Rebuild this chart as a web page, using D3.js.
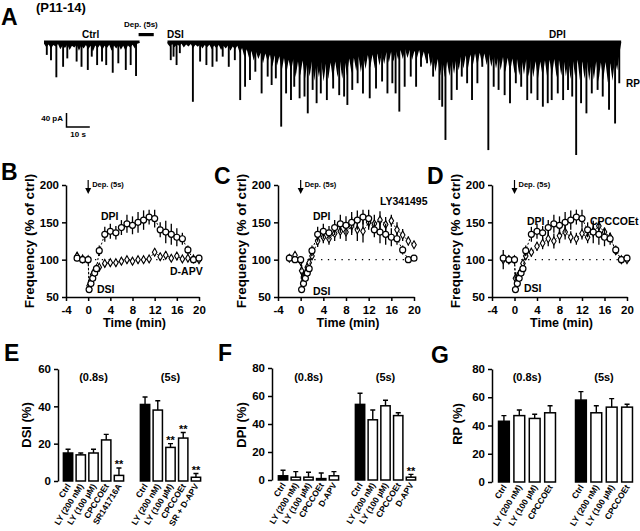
<!DOCTYPE html>
<html>
<head>
<meta charset="utf-8">
<script src="https://cdn.jsdelivr.net/npm/d3@7"></script>
<style>
body { margin: 0; background: #fff; }
svg { font-family: "Liberation Sans", Arial, sans-serif; font-weight: bold; }
</style>
</head>
<body>
<div id="fig"></div>
<script>
// ---------- panel A: current trace, [time (s), amplitude (pA)] ----------
var segStart = [0, 53];
var segLength = [41, 194.7];
var ctrlSpikes = [[1.2,36],[3.0,51],[5.3,100],[8.2,70],[10.0,46],[14.0,55],[16.1,70],[18.8,79],
  [20.5,41],[22.8,65],[24.9,55],[26.7,65],[29.5,87],[31.9,60],[35.1,79],[37.2,65],[39.5,96]];
var postSpikes = [[1.4,51],[2.6,41],[3.9,65],[5.3,31],[10.9,170],[14.0,55],[16.7,65],[19.3,70],
  [21.1,55],[23.7,41],[26.3,70],[28.9,51],[31.2,165],[33.3,127],[35.4,108],[37.7,84],[40.4,146],
  [43.0,98],[44.7,122],[46.5,103],[48.8,241],[50.9,146],[53.0,165],[54.4,127],[56.7,160],[58.8,155],
  [60.2,203],[62.3,136],[64.0,174],[65.8,146],[68.4,165],[71.1,132],[73.7,151],[75.8,155],[77.2,179],
  [79.3,136],[81.6,117],[83.9,146],[86.8,160],[89.5,132],[92.1,112],[94.4,146],[96.5,117],[97.9,146],
  [99.5,198],[101.8,127],[104.4,98],[106.7,127],[108.8,70],[111.4,60],[114.0,98],[116.7,165],
  [117.9,184],[119.3,279],[121.9,165],[124.2,136],[126.3,98],[128.6,117],[130.7,165],[133.0,117],
  [135.1,70],[137.7,308],[140.0,127],[142.1,136],[144.7,151],[147.0,174],[149.5,117],[151.8,127],
  [154.4,165],[156.1,146],[158.8,165],[161.1,184],[163.2,174],[164.9,165],[167.5,146],[169.8,165],
  [171.9,136],[173.7,155],[175.4,322],[177.5,174],[179.8,203],[182.1,146],[184.6,136],[186.8,155],
  [189.5,193],[192.1,232],[193.9,117]];
// depth (pA) of the dense small-event band, one value per second of the trace
var ctrlBand = [4,14,6,18,8,12,5,20,9,16,6,22,10,15,7,24,9,18,8,20,10,26,9,17,8,22,10,16,7,24,
  9,18,8,21,10,25,9,15,7,18,4,2];
var postBand = [4,12,5,14,6,10,4,15,6,12,5,16,7,13,6,18,8,14,7,20,9,17,8,22,10,18,9,24,12,20,
  10,30,16,42,20,45,25,52,28,48,30,60,32,55,35,70,38,66,40,82,45,90,50,85,48,100,55,95,52,105,
  58,98,55,110,60,100,56,112,62,105,58,108,55,100,52,104,50,95,46,88,44,82,40,85,38,76,36,72,35,75,
  32,66,30,62,28,58,26,55,24,50,22,48,20,45,22,50,24,46,22,52,26,55,30,70,40,85,48,95,52,100,
  55,96,50,90,45,80,40,75,38,72,35,68,32,66,30,62,32,65,34,70,36,75,40,80,42,85,44,88,46,90,
  48,95,50,92,48,98,52,100,54,104,55,98,52,102,50,96,48,100,50,95,46,98,48,105,52,100,50,108,
  55,104,52,110,56,106,54,112,58,108,56,115,60,110,50,80,30,3];

// ---------- panels B-D: time course, % of ctrl ----------
var tcTime = [-2,-1,0,0.17,0.5,0.83,1.17,1.5,2,3,4,5,6,7,8,9,10,11,12,13,14,15,16,17,18,19,20];
var ctrlFreq = [102,100,100,60,68,75,82,88,112,134,138,136,143,148,146,150,153,157,155,140,137,134,130,128,113,100,102];
var ctrlErr  = [4,3,2,4,5,5,5,5,7,10,10,9,10,12,12,14,13,10,12,10,15,14,12,8,6,3,3];
var apvFreq  = [105,101,100,65,72,80,85,88,90,95,96,96,98,100,98,100,100,101,110,104,106,102,105,101,102,101,100];
var apvErr   = [5,4,3,5,5,5,5,4,4,5,5,5,5,5,5,5,4,4,5,5,5,4,4,4,4,3,3];
var lyFreq   = [102,106,98,85,75,80,90,96,105,125,130,128,135,138,137,145,140,138,150,148,153,147,152,140,133,125,120];
var lyErr    = [4,4,5,8,10,8,6,5,5,8,8,8,10,10,12,12,15,15,10,12,12,10,8,10,8,6,4];
var cpcFreq  = [100,100,100,75,75,80,85,95,105,110,118,122,128,125,132,137,130,128,135,130,138,145,137,130,112,100,100];
var cpcErr   = [13,6,5,8,8,6,6,5,5,6,6,8,10,10,10,10,8,8,8,8,8,6,6,6,5,3,3];

// ---------- panels E-G: bar charts ----------
var eCats1 = ["Ctrl", "LY (200 nM)", "LY (100 \u00b5M)", "CPCCOEt", "SR141716A"];
var eCats2 = ["Ctrl", "LY (200 nM)", "LY (100 \u00b5M)", "CPCCOEt", "SR + D-APV"];
var eMean1 = [15, 14, 15, 22, 3];
var eErr1  = [2, 1, 2, 3, 4];
var eSig1  = ["", "", "", "", "**"];
var eMean2 = [41, 38, 18, 23, 2];
var eErr2  = [4, 5, 2, 3, 2];
var eSig2  = ["", "", "**", "**", "**"];

var fCats1 = ["Ctrl", "LY (200 nM)", "LY (100 \u00b5M)", "CPCCOEt", "D-APV"];
var fCats2 = ["Ctrl", "LY (200 nM)", "LY (100 \u00b5M)", "CPCCOEt", "D-APV"];
var fMean1 = [3, 2, 2, 1, 3];
var fErr1  = [4, 4, 3.5, 4, 3];
var fSig1  = ["", "", "", "", ""];
var fMean2 = [54, 43, 53, 46, 2];
var fErr2  = [8, 7, 4, 2, 2];
var fSig2  = ["", "", "", "", "**"];

var gCats1 = ["Ctrl", "LY (200 nM)", "LY (100 \u00b5M)", "CPCCOEt"];
var gCats2 = ["Ctrl", "LY (200 nM)", "LY (100 \u00b5M)", "CPCCOEt"];
var gMean1 = [43, 47, 45, 49];
var gErr1  = [4, 4, 3, 5];
var gMean2 = [58, 49, 53, 53];
var gErr2  = [6, 5, 6, 2];
var gSig   = ["", "", "", ""];

var svg = d3.select("#fig").append("svg")
  .attr("width", 640)
  .attr("height", 531);

function label(x, y, txt, size, anchor) {
  return svg.append("text")
    .attr("x", x).attr("y", y)
    .attr("font-size", size)
    .attr("text-anchor", anchor || "start")
    .text(txt);
}

// ================= panel A =================
var xA = d3.scaleLinear().domain([0, 248]).range([44, 44 + 248 * 2.33]);
var yA = d3.scaleLinear().domain([0, 40]).range([42.3, 56.3]);

label(1, 25, "A", 23);
label(36, 12, "(P11-14)", 13);
label(124, 27, "Dep. (5s)", 8);
label(82, 38, "Ctrl", 10);
label(167, 38, "DSI", 10);
label(549, 38, "DPI", 10);
label(626, 87, "RP", 10);

// depolarisation bar
svg.append("rect")
  .attr("x", xA(40.6)).attr("y", 33)
  .attr("width", xA(6.5) - xA(0)).attr("height", 3.2)
  .attr("fill", "#000");

var traceG = svg.append("g");
function drawSeg(start, len, spikes, band) {
  var area = d3.area()
    .x((d, i) => xA(start + Math.min(i, len)))
    .y0(yA(0))
    .y1(d => yA(d));
  traceG.append("path").datum(band).attr("d", area).attr("fill", "#000");
  traceG.append("line")
    .attr("x1", xA(start)).attr("x2", xA(start + len))
    .attr("y1", yA(0) - 0.5).attr("y2", yA(0) - 0.5)
    .attr("stroke", "#000").attr("stroke-width", 2.4);
  traceG.selectAll(null).data(spikes).enter().append("line")
    .attr("x1", d => xA(start + d[0])).attr("x2", d => xA(start + d[0]))
    .attr("y1", yA(0)).attr("y2", d => yA(d[1]))
    .attr("stroke", "#000").attr("stroke-width", 1.9);
}
drawSeg(segStart[0], segLength[0], ctrlSpikes, ctrlBand);
drawSeg(segStart[1], segLength[1], postSpikes, postBand);

// scale bar: 40 pA, 10 s
var sbX = 66.5, sbY = 127;
svg.append("path")
  .attr("d", "M" + sbX + "," + (sbY - (yA(40) - yA(0))) + "V" + sbY + "H" + (sbX + xA(10) - xA(0)))
  .attr("fill", "none").attr("stroke", "#000").attr("stroke-width", 1.5);
label(63, 121, "40 pA", 8, "end");
label(sbX + (xA(10) - xA(0)) / 2, 137, "10 s", 8, "middle");

// ================= panels B-D =================
function styleAxis(g) {
  g.select(".domain").attr("stroke-width", 1.5);
  g.selectAll(".tick line").attr("stroke-width", 1.5);
  g.selectAll(".tick text").attr("font-size", 11.5).attr("font-weight", "bold")
    .attr("font-family", "Liberation Sans, Arial, sans-serif");
}

function timePanel(o) {
  var x = d3.scaleLinear().domain([-4, 20]).range([o.x0, o.x1]);
  var y = d3.scaleLinear().domain([50, 200]).range([297, 185]);
  var g = svg.append("g");

  g.append("g").attr("transform", "translate(0,297)")
    .call(d3.axisBottom(x).tickValues([-4, 0, 4, 8, 12, 16, 20]).tickSize(4).tickSizeOuter(0).tickFormat(d => String(d)))
    .call(styleAxis)
    .selectAll(".tick text").attr("dy", "0.85em");
  g.append("g").attr("transform", "translate(" + o.x0 + ",0)")
    .call(d3.axisLeft(y).tickValues([50, 100, 150, 200]).tickSize(4).tickSizeOuter(0))
    .call(styleAxis);

  g.append("line")
    .attr("x1", x(0)).attr("x2", x(20)).attr("y1", y(100)).attr("y2", y(100))
    .attr("stroke", "#000").attr("stroke-width", 1.3).attr("stroke-dasharray", "1.3,5.5");

  function series(vals, errs, small) {
    var pts = tcTime.map((t, i) => ({ t: t, v: vals[i], e: errs[i] }));
    g.append("path").datum(pts)
      .attr("d", d3.line().x(d => x(d.t)).y(d => y(d.v)))
      .attr("fill", "none").attr("stroke", "#000").attr("stroke-width", 1)
      .attr("stroke-dasharray", "2,2");
    g.selectAll(null).data(pts).enter().append("line")
      .attr("x1", d => x(d.t)).attr("x2", d => x(d.t))
      .attr("y1", d => y(d.v - d.e)).attr("y2", d => y(d.v + d.e))
      .attr("stroke", "#000").attr("stroke-width", 1.3);
    if (small) {
      g.selectAll(null).data(pts).enter().append("path")
        .attr("transform", d => "translate(" + x(d.t) + "," + y(d.v) + ")")
        .attr("d", d3.symbol(d3.symbolDiamond, 18))
        .attr("fill", "#fff").attr("stroke", "#000").attr("stroke-width", 1.1);
    } else {
      g.selectAll(null).data(pts).enter().append("circle")
        .attr("cx", d => x(d.t)).attr("cy", d => y(d.v)).attr("r", 3)
        .attr("fill", "#fff").attr("stroke", "#000").attr("stroke-width", 1.2);
    }
  }
  series(o.vals, o.errs, true);
  series(ctrlFreq, ctrlErr, false);

  // depolarisation arrow
  g.append("line").attr("x1", x(0)).attr("x2", x(0)).attr("y1", 180).attr("y2", 190)
    .attr("stroke", "#000").attr("stroke-width", 1.2);
  g.append("path")
    .attr("d", "M" + (x(0) - 3) + ",188L" + (x(0) + 3) + ",188L" + x(0) + ",194Z")
    .attr("fill", "#000");
  label(x(0) + 4, 187, "Dep. (5s)", 7.5);

  label(o.letterX, o.letterY, o.letter, 23);
  svg.append("text")
    .attr("transform", "translate(" + o.yLabX + ",241) rotate(-90)")
    .attr("text-anchor", "middle").attr("font-size", 13.5)
    .text("Frequency (% of ctrl)");
  label((o.x0 + o.x1) / 2 + 2, 327, "Time (min)", 12.5, "middle");
  o.notes.forEach(n => label(n[0], n[1], n[2], 10.5));
}

timePanel({ x0: 66, x1: 199, vals: apvFreq, errs: apvErr, letter: "B", letterX: 1, letterY: 180,
  yLabX: 34, notes: [[101, 220, "DPI"], [170, 275, "D-APV"], [97, 293, "DSI"]] });
timePanel({ x0: 278, x1: 414, vals: lyFreq, errs: lyErr, letter: "C", letterX: 214, letterY: 184,
  yLabX: 246, notes: [[313, 220, "DPI"], [380, 205, "LY341495"], [313, 295, "DSI"]] });
timePanel({ x0: 492, x1: 627, vals: cpcFreq, errs: cpcErr, letter: "D", letterX: 427, letterY: 184,
  yLabX: 460, notes: [[527, 225, "DPI"], [590, 225, "CPCCOEt"], [524, 292, "DSI"]] });

// ================= panels E-G =================
function barPanel(o) {
  var y = d3.scaleLinear().domain([0, o.max]).range([o.y0, o.y1]);
  var g = svg.append("g");
  g.append("g").attr("transform", "translate(" + o.ax + ",0)")
    .call(d3.axisLeft(y).tickValues(d3.range(0, o.max + 1, 20)).tickSize(4).tickSizeOuter(0))
    .call(styleAxis);

  o.groups.forEach(function (gr) {
    var band = d3.scaleBand().domain(d3.range(gr.cats.length))
      .range(gr.range).paddingInner(gr.pad).paddingOuter(0.05);
    var rows = gr.cats.map((c, i) => ({ i: i, c: c, m: gr.mean[i], e: gr.err[i], s: gr.sig[i] }));
    // error bars
    g.selectAll(null).data(rows).enter().append("path")
      .attr("d", d => {
        var cx = band(d.i) + band.bandwidth() / 2, t = y(d.m + d.e);
        return "M" + cx + "," + y(d.m) + "V" + t + "M" + (cx - 2.5) + "," + t + "H" + (cx + 2.5);
      })
      .attr("stroke", "#000").attr("stroke-width", 1.4).attr("fill", "none");
    g.selectAll(null).data(rows).enter().append("rect")
      .attr("x", d => band(d.i) + 0.75)
      .attr("y", d => y(d.m))
      .attr("width", band.bandwidth() - 1.5)
      .attr("height", d => Math.max(0, y(0) - y(d.m)))
      .attr("fill", d => d.i === 0 ? "#000" : "#fff")
      .attr("stroke", "#000").attr("stroke-width", 1.5);
    g.selectAll(null).data(rows.filter(d => d.s)).enter().append("text")
      .attr("x", d => band(d.i) + band.bandwidth() / 2)
      .attr("y", d => y(d.m + d.e) + 0.5)
      .attr("text-anchor", "middle").attr("font-size", 11)
      .text(d => d.s);
    g.selectAll(null).data(rows).enter().append("text")
      .attr("transform", d => "translate(" + (band(d.i) + band.bandwidth() / 2 + 3) + "," + (y(0) + 5) + ") rotate(-58)")
      .attr("text-anchor", "end").attr("font-size", 8.5)
      .text(d => d.c);
    label((gr.range[0] + gr.range[1]) / 2, 381, gr.title, 11, "middle");
  });

  label(o.letterX, o.letterY, o.letter, 23);
  svg.append("text")
    .attr("transform", "translate(" + o.yLabX + "," + o.yLabY + ") rotate(-90)")
    .attr("text-anchor", "middle").attr("font-size", 13)
    .text(o.yLab);
}

barPanel({ ax: 58, max: 60, y0: 481, y1: 369, letter: "E", letterX: 4, letterY: 361,
  yLab: "DSI (%)", yLabX: 31, yLabY: 425,
  groups: [
    { cats: eCats1, mean: eMean1, err: eErr1, sig: eSig1, range: [62, 125], pad: 0.15, title: "(0.8s)" },
    { cats: eCats2, mean: eMean2, err: eErr2, sig: eSig2, range: [139, 202], pad: 0.15, title: "(5s)" }
  ] });
barPanel({ ax: 272, max: 80, y0: 480, y1: 368, letter: "F", letterX: 218, letterY: 361,
  yLab: "DPI (%)", yLabX: 246, yLabY: 425,
  groups: [
    { cats: fCats1, mean: fMean1, err: fErr1, sig: fSig1, range: [277, 340], pad: 0.15, title: "(0.8s)" },
    { cats: fCats2, mean: fMean2, err: fErr2, sig: fSig2, range: [354, 417], pad: 0.15, title: "(5s)" }
  ] });
barPanel({ ax: 492, max: 80, y0: 482, y1: 369, letter: "G", letterX: 431, letterY: 363,
  yLab: "RP (%)", yLabX: 462, yLabY: 424,
  groups: [
    { cats: gCats1, mean: gMean1, err: gErr1, sig: gSig, range: [497, 557], pad: 0.2, title: "(0.8s)" },
    { cats: gCats2, mean: gMean2, err: gErr2, sig: gSig, range: [574, 634], pad: 0.2, title: "(5s)" }
  ] });
</script>
</body>
</html>
